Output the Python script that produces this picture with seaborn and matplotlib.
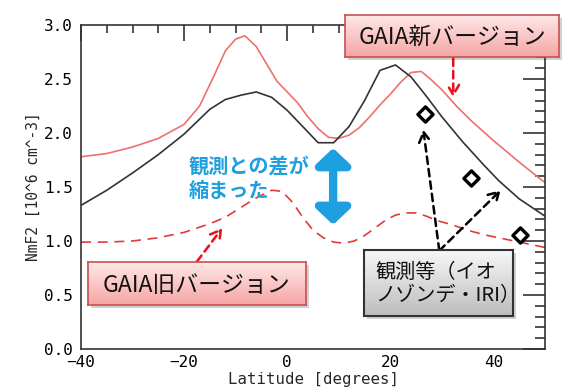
import numpy as np
import pandas as pd
import seaborn as sns
import matplotlib
matplotlib.use("Agg")
import matplotlib.pyplot as plt
from matplotlib.ticker import MultipleLocator, FormatStrFormatter
from matplotlib.colors import LinearSegmentedColormap
from matplotlib.patches import Rectangle

# ---------------- data ----------------
lat_new = [-40, -35, -30, -25, -20, -17, -14, -12, -10, -8.2, -6, -4, -2, 0, 2, 4, 6, 8, 10,
           12, 14, 16, 18, 20, 22, 24, 26, 28, 30, 33, 36, 40, 45, 50]
nmf2_new = [1.78, 1.81, 1.87, 1.95, 2.08, 2.25, 2.55, 2.76, 2.87, 2.90, 2.80, 2.64, 2.48, 2.38,
            2.28, 2.15, 2.04, 1.96, 1.95, 1.98, 2.05, 2.15, 2.26, 2.36, 2.47, 2.56, 2.57, 2.49,
            2.40, 2.24, 2.10, 1.93, 1.73, 1.54]

lat_blk = [-40, -35, -30, -25, -20, -15, -12, -9, -6, -3, 0, 3, 6, 9, 12, 15, 18, 21, 24, 27,
           30, 34, 38, 41, 45, 50]
nmf2_blk = [1.33, 1.47, 1.63, 1.80, 1.99, 2.22, 2.31, 2.35, 2.38, 2.33, 2.21, 2.06, 1.91, 1.91,
            2.06, 2.30, 2.58, 2.63, 2.52, 2.34, 2.15, 1.92, 1.71, 1.56, 1.39, 1.23]

lat_old = [-40, -35, -30, -25, -20, -15, -12, -9, -6, -3, -1, 1, 3, 5, 7, 9, 11, 13, 15, 17,
           19, 21, 23, 25, 27, 29, 32, 35, 38, 41, 45, 50]
nmf2_old = [0.99, 0.99, 1.00, 1.03, 1.08, 1.16, 1.22, 1.31, 1.40, 1.47, 1.46, 1.36, 1.22, 1.10,
            1.03, 0.99, 0.98, 1.00, 1.05, 1.12, 1.19, 1.24, 1.26, 1.26, 1.23, 1.19, 1.15, 1.10,
            1.06, 1.03, 0.99, 0.94]

lat_obs = [26.8, 35.7, 45.2]
nmf2_obs = [2.18, 1.58, 1.06]

xticks = [-40, -20, 0, 20, 40]
yticks = [0.0, 0.5, 1.0, 1.5, 2.0, 2.5, 3.0]
xlabel = "Latitude [degrees]"
ylabel = "NmF2 [10^6 cm^-3]"
label_new = "GAIA新バージョン"
label_old = "GAIA旧バージョン"
label_obs = "観測等（イオ\nノゾンデ・IRI）"
label_diff = "観測との差が\n縮まった"

# ---------------- figure ----------------
W, H = 563, 392
sns.set_theme(style="white")
plt.rcParams['font.family'] = ['DejaVu Sans Mono', 'Noto Sans CJK JP', 'DejaVu Sans']
jp = ['Noto Sans CJK JP', 'DejaVu Sans']

fig = plt.figure(figsize=(W / 100, H / 100), dpi=100)
ax = fig.add_axes([81 / W, 1 - 349 / H, (545 - 81) / W, (349 - 25) / H])

df_new = pd.DataFrame({"lat": lat_new, "v": nmf2_new})
df_blk = pd.DataFrame({"lat": lat_blk, "v": nmf2_blk})
df_old = pd.DataFrame({"lat": lat_old, "v": nmf2_old})
df_obs = pd.DataFrame({"lat": lat_obs, "v": nmf2_obs})

sns.lineplot(data=df_new, x="lat", y="v", ax=ax, color="#EE7070", lw=1.2, sort=False)
sns.lineplot(data=df_blk, x="lat", y="v", ax=ax, color="#333333", lw=1.2, sort=False)
sns.lineplot(data=df_old, x="lat", y="v", ax=ax, color="#E23A3A", lw=1.2, sort=False,
             dashes=False, linestyle=(0, (6, 4)))
sns.scatterplot(data=df_obs, x="lat", y="v", ax=ax, marker="D", s=60, facecolor="white",
                edgecolor="black", linewidth=2.4, zorder=4)

ax.set_xlim(-40, 50)
ax.set_ylim(0, 3.0)
ax.set_xticks(xticks)
ax.set_yticks(yticks)
ax.xaxis.set_minor_locator(MultipleLocator(5))
ax.yaxis.set_minor_locator(MultipleLocator(0.1))
ax.yaxis.set_major_formatter(FormatStrFormatter('%.1f'))
ax.tick_params(axis='both', which='both', direction='in', top=True, right=True,
               color='#333333', width=1.2, labelsize=11.5, labelcolor='black')
ax.tick_params(axis='y', which='major', length=16, pad=6)
ax.tick_params(axis='y', which='minor', length=7)
ax.tick_params(axis='x', which='major', length=11.5, pad=4)
ax.tick_params(axis='x', which='minor', length=5.5)
for s in ax.spines.values():
    s.set_color('#333333')
    s.set_linewidth(1.2)
ax.set_xlabel(xlabel, fontsize=11.3, labelpad=2)
ax.set_ylabel(ylabel, fontsize=10.5, labelpad=2)


def px2fig(x, y):
    return x / W, 1 - y / H


def grad_box(x0, y0, x1, y1, top, bottom, edge, lw):
    sh = Rectangle(((x0 + 3) / W, 1 - (y1 + 3) / H), (x1 - x0) / W, (y1 - y0) / H,
                   transform=fig.transFigure, facecolor=(0, 0, 0, 0.18), edgecolor='none',
                   zorder=4)
    fig.patches.append(sh)
    bax = fig.add_axes([x0 / W, 1 - y1 / H, (x1 - x0) / W, (y1 - y0) / H])
    grad = np.linspace(0, 1, 100).reshape(-1, 1)
    cmap = LinearSegmentedColormap.from_list('g', [top, bottom])
    bax.imshow(grad, aspect='auto', cmap=cmap, extent=[0, 1, 0, 1], origin='upper')
    bax.set_xticks([])
    bax.set_yticks([])
    for s in bax.spines.values():
        s.set_color(edge)
        s.set_linewidth(lw)
    bax.set_zorder(5)
    return bax


grad_box(345, 15, 559, 57, "#FFE8E8", "#F5A5A5", "#C85050", 1.2)
grad_box(88, 262, 306, 305, "#FFE8E8", "#F5A5A5", "#C85050", 1.2)
grad_box(364, 250, 513, 316, "#F7F7F7", "#BDBDBD", "#333333", 1.5)

fig.text(*px2fig(452, 37), label_new, family=jp, fontsize=16.5, ha='center', va='center',
         color='#111111', zorder=6)
fig.text(*px2fig(196, 285), label_old, family=jp, fontsize=16.5, ha='center', va='center',
         color='#111111', zorder=6)
fig.text(*px2fig(375, 284), label_obs, family=jp, fontsize=14.5, ha='left', va='center',
         color='#111111', zorder=6, linespacing=1.15)
fig.text(*px2fig(189, 178), label_diff, family=jp, fontsize=14.5, ha='left', va='center',
         color='#1E9FE0', fontweight='bold', zorder=6, linespacing=1.2)

# arrows (data coordinates)
ax.annotate("", xy=(32.2, 2.33), xytext=(32.2, 2.69), annotation_clip=False,
            arrowprops=dict(arrowstyle="->,head_width=0.35,head_length=0.6", color="#E8101A",
                            lw=1.8, linestyle=(0, (3, 2)), shrinkA=0, shrinkB=0))
ax.annotate("", xy=(-12.6, 1.12), xytext=(-17.5, 0.81), annotation_clip=False,
            arrowprops=dict(arrowstyle="->,head_width=0.35,head_length=0.6", color="#E8101A",
                            lw=1.8, linestyle=(0, (3, 2)), shrinkA=0, shrinkB=0))
ax.annotate("", xy=(26.4, 2.03), xytext=(29.5, 0.91), annotation_clip=False,
            arrowprops=dict(arrowstyle="->,head_width=0.35,head_length=0.6", color="black",
                            lw=1.8, linestyle=(0, (3, 2)), shrinkA=0, shrinkB=0))
ax.annotate("", xy=(41.4, 1.47), xytext=(29.5, 0.91), annotation_clip=False,
            arrowprops=dict(arrowstyle="->,head_width=0.35,head_length=0.6", color="black",
                            lw=1.8, linestyle=(0, (3, 2)), shrinkA=0, shrinkB=0))
ax.annotate("", xy=(8.9, 1.86), xytext=(8.9, 1.15), annotation_clip=False,
            arrowprops=dict(arrowstyle="<|-|>,head_width=0.85,head_length=0.8", color="#1E9FE0",
                            lw=6, shrinkA=0, shrinkB=0, mutation_scale=12))

fig.savefig("out.png", dpi=100)
